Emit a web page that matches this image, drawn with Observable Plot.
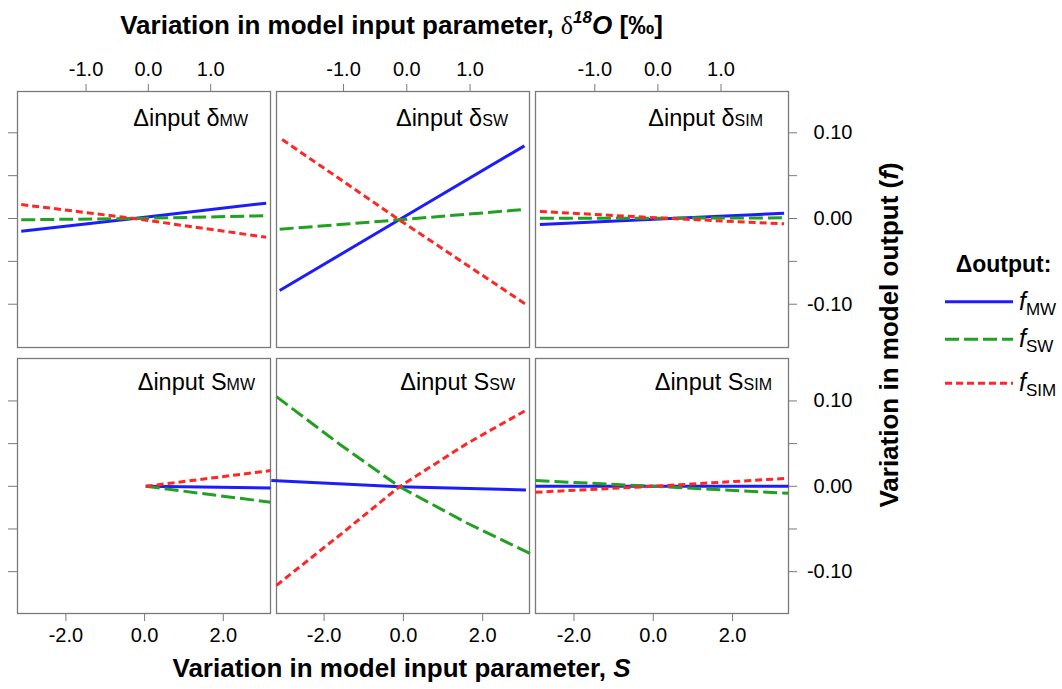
<!DOCTYPE html>
<html><head><meta charset="utf-8">
<script src="https://cdn.jsdelivr.net/npm/d3@7"></script>
<script src="https://cdn.jsdelivr.net/npm/@observablehq/plot@0.6"></script>
<style>
html,body{margin:0;padding:0;background:#fff;}
#wrap{position:relative;width:1062px;height:689px;overflow:hidden;font-family:"Liberation Sans",Arial,Helvetica,sans-serif;}
#wrap svg{overflow:visible;}
.panel{position:absolute;}
#overlay{position:absolute;left:0;top:0;}
</style></head><body><div id="wrap"></div>
<script>
// ---------- data ----------
const seriesNames = ["MW", "SW", "SIM"];            // Δoutput: f_MW, f_SW, f_SIM
const seriesColors = ["#1c1cff", "#22a022", "#ff2626"];
const seriesDash = [null, "14,5", "7,4"];

const inputNames = [["δ", "MW"], ["δ", "SW"], ["δ", "SIM"], ["S", "MW"], ["S", "SW"], ["S", "SIM"]];

const topTicks = [-1, 0, 1];
const bottomTicks = [-2, 0, 2];
const yTicks = [-0.1, -0.05, 0, 0.05, 0.1];
const yLabelled = [-0.1, 0, 0.1];

// x ranges of each panel (per-panel scales)
const xDomains = [[-2.10, 1.96], [-2.06, 1.94], [-1.94, 2.07], [-3.23, 3.20], [-3.20, 3.18], [-2.97, 3.41]];
const yDomains = [[-0.1505, 0.1482], [-0.149, 0.1497]];

// Δinput δMW
const dMW_fMW  = [[-2.04, -0.0148], [-0.23, 0.0], [1.89, 0.0179]];
const dMW_fSW  = [[-2.04, -0.0015], [-0.23, 0.0], [1.89, 0.0032]];
const dMW_fSIM = [[-2.04, 0.0163], [-0.23, 0.0], [1.89, -0.0218]];
// Δinput δSW
const dSW_fMW  = [[-2.01, -0.084], [-0.12, -0.0015], [1.86, 0.0848]];
const dSW_fSW  = [[-2.01, -0.0125], [-0.12, -0.0015], [1.86, 0.0105]];
const dSW_fSIM = [[-1.97, 0.0922], [-0.12, -0.0015], [1.87, -0.0995]];
// Δinput δSIM
const dSIM_fMW  = [[-1.87, -0.0070], [0.2, 0.0], [2.0, 0.0062]];
const dSIM_fSW  = [[-1.87, 0.0003], [0.2, 0.0004], [2.0, 0.0008]];
const dSIM_fSIM = [[-1.87, 0.0082], [0.2, 0.0], [2.0, -0.0062]];
// Δinput SMW
const sMW_fMW  = [[0.03, 0.0], [3.2, -0.0019]];
const sMW_fSW  = [[0.03, 0.0], [3.2, -0.0187]];
const sMW_fSIM = [[0.03, 0.0], [3.2, 0.0184]];
// Δinput SSW
const sSW_fMW  = [[-3.33, 0.0067], [-0.1, -0.0004], [3.09, -0.0042]];
const sSW_fSW  = [[-3.2, 0.105], [-1.6, 0.049], [-0.1, -0.0005], [1.6, -0.043], [3.3, -0.081]];
const sSW_fSIM = [[-3.2, -0.116], [-1.6, -0.057], [-0.1, -0.0005], [1.6, 0.050], [3.07, 0.0885]];
// Δinput SSIM
const sSIM_fMW  = [[-2.97, 0.0], [3.41, 0.0]];
const sSIM_fSW  = [[-2.97, 0.0067], [0.0, 0.0], [3.41, -0.0082]];
const sSIM_fSIM = [[-2.97, -0.0070], [0.0, 0.0], [3.41, 0.0094]];

const panelSeries = [
  [dMW_fMW, dMW_fSW, dMW_fSIM],
  [dSW_fMW, dSW_fSW, dSW_fSIM],
  [dSIM_fMW, dSIM_fSW, dSIM_fSIM],
  [sMW_fMW, sMW_fSW, sMW_fSIM],
  [sSW_fMW, sSW_fSW, sSW_fSIM],
  [sSIM_fMW, sSIM_fSW, sSIM_fSIM]
];

// ---------- layout ----------
const FONT = '"Liberation Sans", Arial, Helvetica, sans-serif';
const panelX = [17, 276, 535];
const panelY = [91, 358];
const panelW = 253;
const panelH = [256, 255];
const M = {l: 30, r: 90, t: 45, b: 45};
const GRAY = "#7a7a7a";

const wrap = document.getElementById("wrap");

for (let i = 0; i < 6; i++) {
  const row = Math.floor(i / 3), col = i % 3;
  const marks = [Plot.frame({stroke: GRAY, strokeWidth: 1.3})];
  panelSeries[i].forEach((pts, k) => {
    marks.push(Plot.line(pts, {
      x: d => d[0], y: d => d[1],
      stroke: seriesColors[k], strokeWidth: 3,
      strokeDasharray: seriesDash[k] || undefined,
      strokeLinecap: "butt", strokeLinejoin: "round"
    }));
  });
  if (row === 0) {
    marks.push(Plot.axisX({ticks: topTicks, anchor: "top", tickSize: 8, tickPadding: 8,
      tickFormat: d => d.toFixed(1), stroke: GRAY, fill: "#000", label: null}));
  } else {
    marks.push(Plot.axisX({ticks: bottomTicks, anchor: "bottom", tickSize: 8, tickPadding: 6,
      tickFormat: d => d.toFixed(1), stroke: GRAY, fill: "#000", label: null}));
  }
  if (col === 0) {
    marks.push(Plot.axisY({ticks: yTicks, anchor: "left", tickSize: 9,
      tickFormat: () => "", stroke: GRAY, label: null}));
  } else if (col === 2) {
    marks.push(Plot.axisY({ticks: yTicks, anchor: "right", tickSize: 8, tickPadding: 56,
      textAnchor: "end", tickFormat: d => yLabelled.includes(d) ? d.toFixed(2) : "",
      stroke: GRAY, fill: "#000", label: null}));
  }
  const p = Plot.plot({
    width: panelW + M.l + M.r,
    height: panelH[row] + M.t + M.b,
    marginLeft: M.l, marginRight: M.r, marginTop: M.t, marginBottom: M.b,
    x: {domain: xDomains[i]},
    y: col === 1 ? {domain: yDomains[row], axis: null} : {domain: yDomains[row]},
    style: {fontFamily: FONT, fontSize: "20px", background: "transparent", overflow: "visible", color: "#000"},
    marks
  });
  p.classList.add("panel");
  p.style.left = (panelX[col] - M.l) + "px";
  p.style.top = (panelY[row] - M.t) + "px";
  p.style.maxWidth = "none";
  wrap.appendChild(p);
}

// ---------- overlay: titles, panel labels, legend ----------
const ov = d3.select(wrap).append("svg").attr("id", "overlay")
  .attr("width", 1062).attr("height", 689)
  .style("font-family", FONT);

// panel labels
const labelRight = [[248, 508, 763], [255, 515, 772]];
const labelBase = [126, 390];
for (let i = 0; i < 6; i++) {
  const row = Math.floor(i / 3), col = i % 3;
  const t = ov.append("text").attr("x", labelRight[row][col]).attr("y", labelBase[row])
    .attr("text-anchor", "end").attr("font-size", 23.5);
  t.append("tspan").text("Δinput " + inputNames[i][0]);
  t.append("tspan").attr("font-size", 16).text(inputNames[i][1]);
}

// top title
{
  const t = ov.append("text").attr("x", 391.5).attr("y", 34).attr("text-anchor", "middle")
    .attr("font-size", 26).attr("font-weight", "bold");
  t.append("tspan").text("Variation in model input parameter, ");
  t.append("tspan").attr("font-weight", "normal").attr("font-family", '"Liberation Serif", "DejaVu Serif", serif').text("δ");
  t.append("tspan").attr("font-style", "italic").attr("font-size", 17).attr("dy", -11).text("18");
  t.append("tspan").attr("font-style", "italic").attr("dy", 11).text("O");
  t.append("tspan").text(" [‰]");
}
// bottom title
{
  const t = ov.append("text").attr("x", 401.5).attr("y", 677).attr("text-anchor", "middle")
    .attr("font-size", 26).attr("font-weight", "bold");
  t.append("tspan").text("Variation in model input parameter, ");
  t.append("tspan").attr("font-style", "italic").text("S");
}
// right y title
{
  const t = ov.append("text").attr("transform", "translate(898,335) rotate(-90)")
    .attr("text-anchor", "middle").attr("font-size", 26).attr("font-weight", "bold");
  t.append("tspan").text("Variation in model output (");
  t.append("tspan").attr("font-style", "italic").text("f");
  t.append("tspan").text(")");
}
// legend
{
  ov.append("text").attr("x", 1003.5).attr("y", 272).attr("text-anchor", "middle")
    .attr("font-size", 23).attr("font-weight", "bold").text("Δoutput:");
  const ly = [301.7, 339.3, 383.3];
  seriesNames.forEach((s, k) => {
    ov.append("line").attr("x1", 945).attr("x2", 1013).attr("y1", ly[k]).attr("y2", ly[k])
      .attr("stroke", seriesColors[k]).attr("stroke-width", 3)
      .attr("stroke-dasharray", seriesDash[k]).attr("stroke-linecap", "butt");
    const t = ov.append("text").attr("x", 1019).attr("y", ly[k] + 8).attr("font-size", 25);
    t.append("tspan").attr("font-style", "italic").text("f");
    t.append("tspan").attr("font-size", 17).attr("dy", 5).text(s);
  });
}
</script></body></html>
